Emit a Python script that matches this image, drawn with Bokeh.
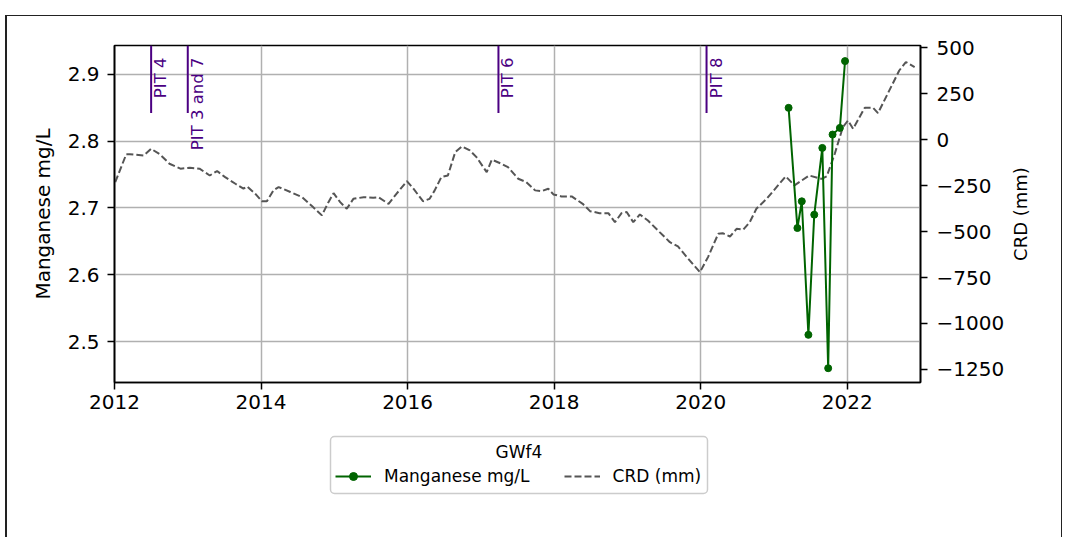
import math
from bokeh.plotting import figure
from bokeh.layouts import column, row
from bokeh.models import (Range1d, LinearAxis, FixedTicker, CustomJSTickFormatter,
                          Legend, LegendItem, Label)
from bokeh.core.properties import value
from bokeh.embed import file_html
from bokeh.resources import INLINE

# ---------------- data ----------------
mn_years = [2021.20, 2021.32, 2021.38, 2021.47, 2021.55, 2021.66, 2021.74, 2021.80, 2021.90, 2021.97]
mn_values = [2.85, 2.67, 2.71, 2.51, 2.69, 2.79, 2.46, 2.81, 2.82, 2.92]

crd_years = [2012.01, 2012.16, 2012.21, 2012.40, 2012.50, 2012.62, 2012.75, 2012.90, 2013.03, 2013.16,
             2013.30, 2013.40, 2013.51, 2013.65, 2013.76, 2013.81, 2013.92, 2014.01, 2014.08, 2014.17,
             2014.24, 2014.40, 2014.56, 2014.71, 2014.83, 2014.92, 2014.99, 2015.08, 2015.17, 2015.26,
             2015.40, 2015.53, 2015.60, 2015.74, 2015.85, 2015.99, 2016.08, 2016.21, 2016.30, 2016.37,
             2016.46, 2016.55, 2016.65, 2016.74, 2016.85, 2016.94, 2017.08, 2017.15, 2017.28, 2017.37,
             2017.51, 2017.62, 2017.74, 2017.83, 2017.92, 2017.99, 2018.10, 2018.24, 2018.39, 2018.49,
             2018.62, 2018.74, 2018.83, 2018.92, 2018.99, 2019.08, 2019.17, 2019.28, 2019.44, 2019.58,
             2019.69, 2019.83, 2019.99, 2020.10, 2020.24, 2020.30, 2020.40, 2020.49, 2020.58, 2020.67,
             2020.76, 2020.90, 2021.16, 2021.28, 2021.48, 2021.65, 2021.72, 2021.83, 2021.94, 2022.01,
             2022.08, 2022.24, 2022.35, 2022.42, 2022.71, 2022.80, 2022.92]
crd_values = [-231, -80, -80, -86, -50, -80, -131, -158, -153, -158,
              -195, -171, -204, -240, -267, -255, -294, -335, -335, -276,
              -258, -285, -313, -367, -412, -340, -291, -340, -376, -322,
              -313, -316, -313, -349, -294, -226, -267, -335, -322, -276,
              -204, -195, -68, -37, -59, -95, -177, -109, -131, -150,
              -213, -231, -276, -280, -267, -298, -309, -309, -349, -389,
              -400, -400, -449, -400, -394, -449, -407, -440, -503, -558,
              -581, -648, -721, -639, -512, -509, -527, -485, -490, -449,
              -376, -322, -200, -249, -195, -213, -200, -77, 68, 104,
              59, 174, 174, 144, 376, 422, 394]

pit_years = [2012.50, 2013.00, 2017.24, 2020.08]
pit_labels = ["PIT 4", "PIT 3 and 7", "PIT 6", "PIT 8"]

x_ticks = [2012, 2014, 2016, 2018, 2020, 2022]
mn_ticks = [2.5, 2.6, 2.7, 2.8, 2.9]
crd_ticks = [-1250, -1000, -750, -500, -250, 0, 250, 500]

legend_title = "GWf4"
mn_label = "Manganese mg/L"
crd_label = "CRD (mm)"

# ---------------- ranges ----------------
X0, X1 = 2012.0, 2023.0
Y0, Y1 = 2.4386, 2.9434
C0, C1 = -1321.0, 512.0

FONT = "DejaVu Sans"
GREEN = "#006400"
DASH = "#555555"
PIT = "#4B0082"
W = 1057            # total canvas width
BL, BR = 107, 144   # frame borders (left / right) of the whole chart
BT, BB = 29, 48     # frame borders (top / bottom) of the chart
H = 414
WR = 54             # strip at right holding the right axis title
FW = W - BL - BR    # frame width in px

# ================= main chart =================
p = figure(width=W - WR, height=H, output_backend="svg", toolbar_location=None,
           x_range=Range1d(X0, X1), y_range=Range1d(Y0, Y1),
           min_border_left=BL, min_border_right=BR - WR, min_border_top=BT, min_border_bottom=BB)
p.margin = (15, 0, 0, 5)
p.styles = {"border-top": "1px solid #222", "border-left": "2px solid #222"}
p.extra_y_ranges = {"crd": Range1d(C0, C1)}
p.background_fill_color = "white"
p.border_fill_color = "white"
p.outline_line_color = "black"
p.outline_line_width = 1.6
p.outline_line_alpha = 1.0

right_axis = LinearAxis(y_range_name="crd", ticker=FixedTicker(ticks=crd_ticks),
                        formatter=CustomJSTickFormatter(
                            code="return tick < 0 ? '\u2212' + Math.abs(tick) : String(tick);"))
p.add_layout(right_axis, "right")

p.xaxis.ticker = FixedTicker(ticks=x_ticks)
p.yaxis[0].ticker = FixedTicker(ticks=mn_ticks)
p.yaxis[0].axis_label = mn_label

for ax in p.axis:
    ax.major_tick_out = 7
    ax.major_tick_in = 0
    ax.minor_tick_out = 0
    ax.minor_tick_in = 0
    ax.major_tick_line_width = 1.5
    ax.major_tick_line_color = "black"
    ax.axis_line_width = 1.6
    ax.axis_line_color = "black"
    ax.major_label_text_font = FONT
    ax.major_label_text_font_size = "20px"
    ax.major_label_text_color = "black"
    ax.axis_label_text_font = FONT
    ax.axis_label_text_font_size = "20px"
    ax.axis_label_text_font_style = "normal"
    ax.axis_label_text_color = "black"

p.xaxis.major_label_standoff = 5
p.yaxis[0].major_label_standoff = 8
p.yaxis[0].axis_label_standoff = 10
right_axis.major_label_standoff = 9

for g in (p.xgrid, p.ygrid):
    g.grid_line_color = "#b0b0b0"
    g.grid_line_width = 1.5

# CRD dashed line (right axis)
r_crd = p.line(crd_years, crd_values, y_range_name="crd", line_color=DASH,
               line_width=2, line_dash="7 3")

# Manganese (left axis)
r_mn_line = p.line(mn_years, mn_values, line_color=GREEN, line_width=2)
r_mn_pts = p.scatter(mn_years, mn_values, marker="circle", size=7,
                     fill_color=GREEN, line_color=GREEN)

# PIT markers: short vertical lines in top 20% of the axes
seg_bottom = Y0 + 0.8 * (Y1 - Y0)
p.segment(x0=pit_years, y0=[seg_bottom] * len(pit_years), x1=pit_years,
          y1=[Y1] * len(pit_years), line_color=PIT, line_width=2)
p.text(x=pit_years, y=[Y1] * len(pit_years), text=pit_labels, angle=math.pi / 2,
       text_align="right", text_baseline="top", y_offset=12, x_offset=0,
       text_font=value(FONT), text_font_size="16.5px", text_color=PIT)

# ================= right strip: right axis title (reads bottom-to-top) =================
pr = figure(width=WR, height=H, output_backend="svg", toolbar_location=None,
            x_range=Range1d(0, WR), y_range=p.y_range,
            x_axis_type=None, y_axis_type=None,
            min_border_left=0, min_border_right=0, min_border_top=BT, min_border_bottom=BB)
pr.margin = (15, 0, 0, 0)
pr.styles = {"border-top": "1px solid #222", "border-right": "1px solid #222"}
pr.outline_line_color = None
pr.background_fill_color = "white"
pr.border_fill_color = "white"
pr.add_layout(Label(x=12, y=(Y0 + Y1) / 2, text=crd_label, angle=math.pi / 2,
                    text_align="center", text_baseline="middle",
                    text_font=FONT, text_font_size="18px", text_color="black"))

# ================= legend strip below the chart =================
LH = 108
pl = figure(width=W, height=LH, output_backend="svg", toolbar_location=None,
            x_range=Range1d(0, FW), y_range=Range1d(0, LH),
            x_axis_type=None, y_axis_type=None,
            min_border_left=BL, min_border_right=BR, min_border_top=0, min_border_bottom=0)
pl.margin = (0, 0, 0, 5)
pl.styles = {"border-left": "2px solid #222", "border-right": "1px solid #222"}
pl.outline_line_color = None
pl.background_fill_color = "white"
pl.border_fill_color = "white"

# legend frame (px from frame left / strip bottom)
box_l, box_r, box_b, box_t = 216, 593, 44, 101
box = pl.quad(left=[box_l], right=[box_r], bottom=[box_b], top=[box_t],
              fill_color="white", line_color="#cccccc", line_width=1.5)
if "border_radius" in box.glyph.properties():
    box.glyph.border_radius = 4
pl.add_layout(Label(x=(box_l + box_r) / 2, y=box_t - 15, text=legend_title,
                    text_align="center", text_baseline="middle",
                    text_font=FONT, text_font_size="17px", text_color="black"))

# legend proxies: same data and styles as the chart's series (their data lie outside this strip's view)
g_line = pl.line(mn_years, mn_values, line_color=GREEN, line_width=2)
g_pts = pl.scatter(mn_years, mn_values, marker="circle", size=7, fill_color=GREEN, line_color=GREEN)
g_crd = pl.line(crd_years, crd_values, line_color=DASH, line_width=2, line_dash="7 3")

legend = Legend(items=[LegendItem(label=mn_label, renderers=[g_line, g_pts]),
                       LegendItem(label=crd_label, renderers=[g_crd])],
                orientation="horizontal", location=(box_l + 5, 51))
legend.margin = 0
legend.padding = 0
legend.spacing = 34
legend.glyph_width = 36
legend.glyph_height = 20
legend.label_height = 20
legend.label_standoff = 13
legend.label_text_font = FONT
legend.label_text_font_size = "17px"
legend.label_text_color = "black"
legend.border_line_color = None
legend.background_fill_alpha = 0.0
pl.add_layout(legend)

layout = column(row(p, pr, spacing=0), pl, spacing=0)
open("out.html", "w").write(file_html(layout, INLINE))
